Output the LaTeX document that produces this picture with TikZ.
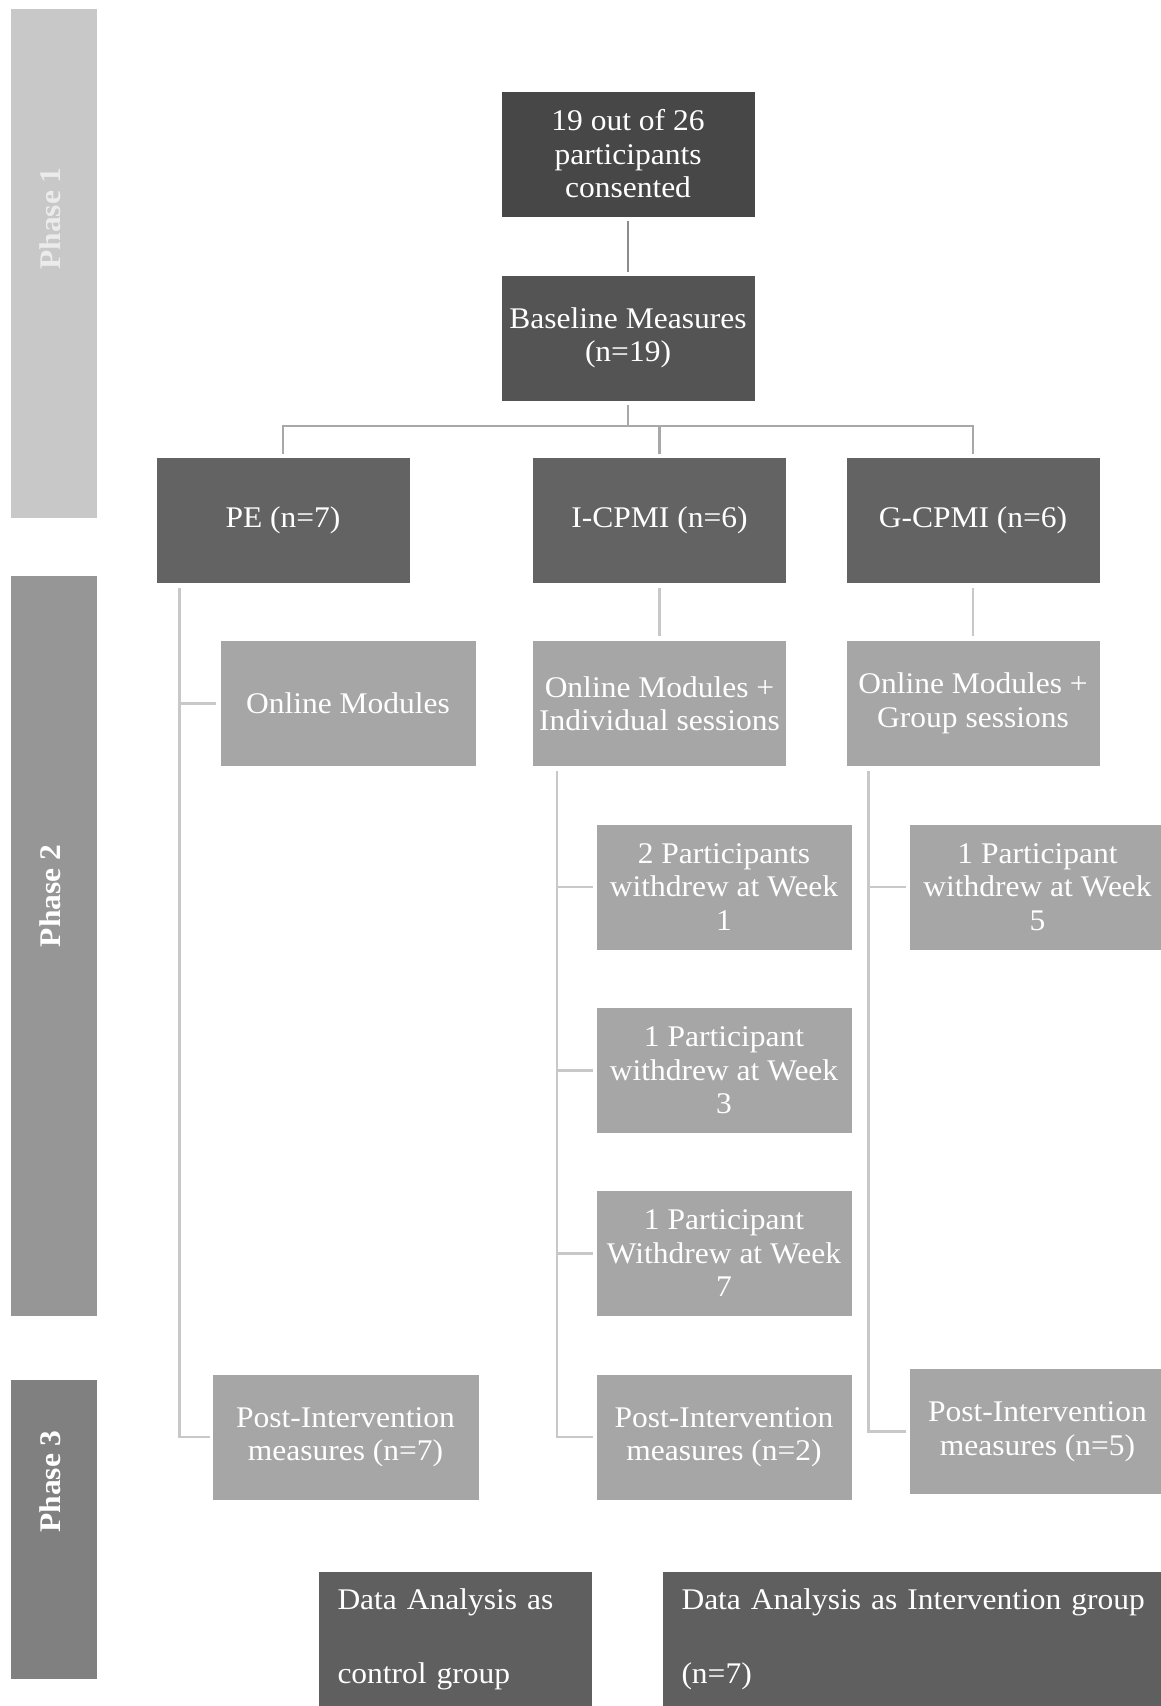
\documentclass[tikz,border=0pt]{standalone}
\usepackage{fontspec}
\setmainfont{Liberation Serif}[FakeStretch=1.05]
\usetikzlibrary{calc}
\definecolor{cTop}{HTML}{474747}
\definecolor{cBase}{HTML}{545454}
\definecolor{cArm}{HTML}{636363}
\definecolor{cStep}{HTML}{A6A6A6}
\definecolor{cData}{HTML}{5F5F5F}
\definecolor{cPhA}{HTML}{C8C8C8}
\definecolor{cPhB}{HTML}{969696}
\definecolor{cPhC}{HTML}{7F807F}
\definecolor{cLineA}{HTML}{8C8C8C}
\definecolor{cLineB}{HTML}{A8A8A8}
\definecolor{cLineC}{HTML}{C8C8C8}
\tikzset{
  box/.style={rectangle, draw=white, line width=1pt, text=white, align=center,
    inner sep=2pt, font=\fontsize{30}{33.5}\selectfont},
  topbox/.style={box, fill=cTop, minimum width=254pt, minimum height=126pt},
  basebox/.style={box, fill=cBase, minimum width=254pt, minimum height=126pt},
  armbox/.style={box, fill=cArm, minimum width=254pt, minimum height=126pt},
  stepbox/.style={box, fill=cStep, minimum width=256pt, minimum height=126pt},
  databox/.style={box, fill=cData, align=left, anchor=north west, minimum height=136pt,
    font=\fontsize{30}{74}\selectfont},
  phasebar/.style={rectangle, minimum width=86pt},
  phaselbl/.style={rotate=90, font=\fontsize{30}{34}\selectfont\bfseries},
  conn/.style={line width=2.6pt, cLineC},
}
\begin{document}
\begin{tikzpicture}[x=1pt,y=-1pt]
\useasboundingbox[fill=white] (0,0) rectangle (1160,1706);

% phase bars
\node[phasebar, fill=cPhA, minimum height=509pt] (ph1) at (54,263.5) {};
\node[phasebar, fill=cPhB, minimum height=740pt] (ph2) at (54,946) {};
\node[phasebar, fill=cPhC, minimum height=299pt] (ph3) at (54,1529.5) {};
\node[phaselbl, text=white!92!black] (ph1t) at ($(ph1.center)+(-4,-45)$) {Phase 1};
\node[phaselbl, text=white] (ph2t) at ($(ph2.center)+(-4,-50)$) {Phase 2};
\node[phaselbl, text=white] (ph3t) at ($(ph3.center)+(-4,-48)$) {Phase 3};

% top of the flow
\node[topbox] (cons) at (628,154) {19 out of 26\\participants\\consented};
\node[basebox] (base) at (628,338) {Baseline Measures\\(n=19)};

% three arms
\node[armbox] (pe) at (283,520) {PE (n=7)};
\node[armbox] (ic) at (659.5,520) {I-CPMI (n=6)};
\node[armbox] (gc) at (973,520) {G-CPMI (n=6)};

% interventions
\node[stepbox] (peon) at (348,703.5) {Online Modules};
\node[stepbox, minimum width=254pt] (icon) at (659.5,703.5) {Online Modules +\\Individual sessions};
\node[stepbox, minimum width=254pt] (gcon) at (973,703.5) {Online Modules +\\Group sessions};

% withdrawals
\node[stepbox] (icw1) at (724,887) {2 Participants\\withdrew at Week\\1};
\node[stepbox] (icw2) at (724,1070.5) {1 Participant\\withdrew at Week\\3};
\node[stepbox] (icw3) at (724,1253.5) {1 Participant\\Withdrew at Week\\7};
\node[stepbox] (gcw1) at (1037.5,887) {1 Participant\\withdrew at Week\\5};

% post-intervention
\node[stepbox, minimum width=267pt] (pepost) at (345.5,1437) {Post-Intervention\\measures (n=7)};
\node[stepbox] (icpost) at (724,1437) {Post-Intervention\\measures (n=2)};
\node[stepbox] (gcpost) at (1037.5,1431.5) {Post-Intervention\\measures (n=5)};

% analysis
\node[databox, minimum width=274pt, text width=236pt] (dactl) at (318,1571)
  {Data Analysis as\\control group};
\node[databox, minimum width=503pt, text width=465pt] (daint) at (662,1571)
  {Data Analysis as Intervention group\\(n=7)};

% connectors
\draw[conn, cLineA] ([yshift=-3pt]cons.south) -- ([yshift=3pt]base.north);
\coordinate (bus) at (628,426);
\draw[conn, cLineB] ([yshift=-3pt]base.south) -- (bus);
\draw[conn, cLineB] ([yshift=3pt]pe.north) |- (bus) -| ([yshift=3pt]gc.north);
\draw[conn, cLineB] ([yshift=3pt]ic.north) -- (ic.north |- bus);

\draw[conn] ([yshift=-4pt]ic.south) -- ([yshift=4pt]icon.north);
\draw[conn] ([yshift=-4pt]gc.south) -- ([yshift=4pt]gcon.north);

\coordinate (perail) at ($(pe.south west)+(24,4)$);
\draw[conn] (perail) |- ([xshift=-4pt]peon.west);
\draw[conn] (perail) |- ([xshift=-2pt]pepost.west);

\coordinate (icrail) at ($(icon.south west)+(25,4)$);
\draw[conn] (icrail) |- ([xshift=-3pt]icw1.west);
\draw[conn] (icrail) |- ([xshift=-3pt]icw2.west);
\draw[conn] (icrail) |- ([xshift=-3pt]icw3.west);
\draw[conn] (icrail) |- ([xshift=-3pt]icpost.west);

\coordinate (gcrail) at ($(gcon.south west)+(23,4)$);
\draw[conn] (gcrail) |- ([xshift=-3pt]gcw1.west);
\draw[conn] (gcrail) |- ([xshift=-3pt]gcpost.west);
\end{tikzpicture}
\end{document}
